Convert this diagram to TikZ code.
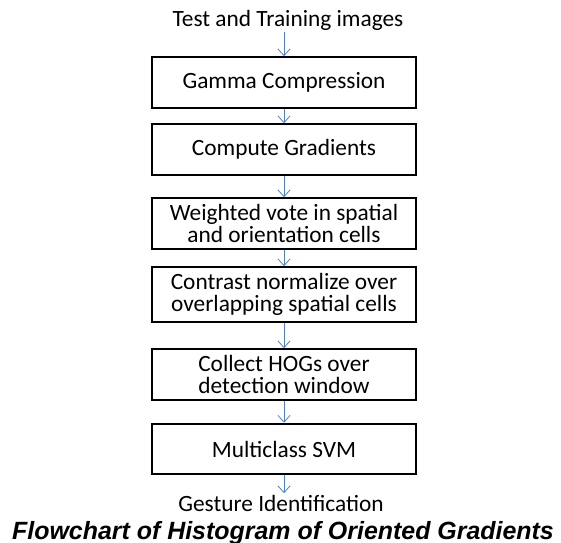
\documentclass[tikz,border=0pt]{standalone}
\usepackage{fontspec}
\setmainfont{Carlito}
\newfontfamily\captionfont{Liberation Sans}
\usepackage{tikz}
\usetikzlibrary{arrows.meta}
\definecolor{flowblue}{RGB}{79,129,189}

\begin{document}
\begin{tikzpicture}[x=0.75pt,y=-0.75pt,
        stage/.style={rectangle, draw=black, line width=1.4pt, minimum width=198pt, minimum height=38pt, align=center, inner sep=2pt, font=\fontsize{17.5}{16.8}\selectfont},
        label/.style={inner sep=1pt, font=\fontsize{17.5}{18}\selectfont},
        flow/.style={draw=flowblue, line width=0.6pt, -{Straight Barb[length=5pt,width=9pt,line width=0.6pt]}},
        ]
        \useasboundingbox (0,0) rectangle (561,543);
        \node (input) at (288,20) [label] {Test and Training images};

        \node (gamma) at (284,82.5) [stage] {Gamma Compression};
        \node (grad) at (284,149.5) [stage] {Compute Gradients};
        \node (vote) at (284,223.5) [stage] {Weighted vote in spatial\\and orientation cells};
        \node (norm) at (284,294.5) [stage, minimum height=41pt] {Contrast normalize over\\overlapping spatial cells};
        \node (hog) at (284,374.5) [stage] {Collect HOGs over\\detection window};
        \node (svm) at (284,449) [stage] {Multiclass SVM};

        \node (output) at (281,511) [label, anchor=base] {Gesture Identification};
        \node (title) at (283,539) [anchor=base, inner sep=0pt] {\captionfont\bfseries\itshape\fontsize{18.7}{19}\selectfont Flowchart of Histogram of Oriented Gradients};

        \draw[flow] (input.south -| gamma) -- (gamma);
        \draw[flow] (gamma) -- (grad);
        \draw[flow] (grad) -- (vote);
        \draw[flow] (vote) -- (norm);
        \draw[flow] (norm) -- (hog);
        \draw[flow] (hog) -- (svm);
        \draw[flow] (svm) -- (output.north -| svm);
    \end{tikzpicture}
\end{document}
